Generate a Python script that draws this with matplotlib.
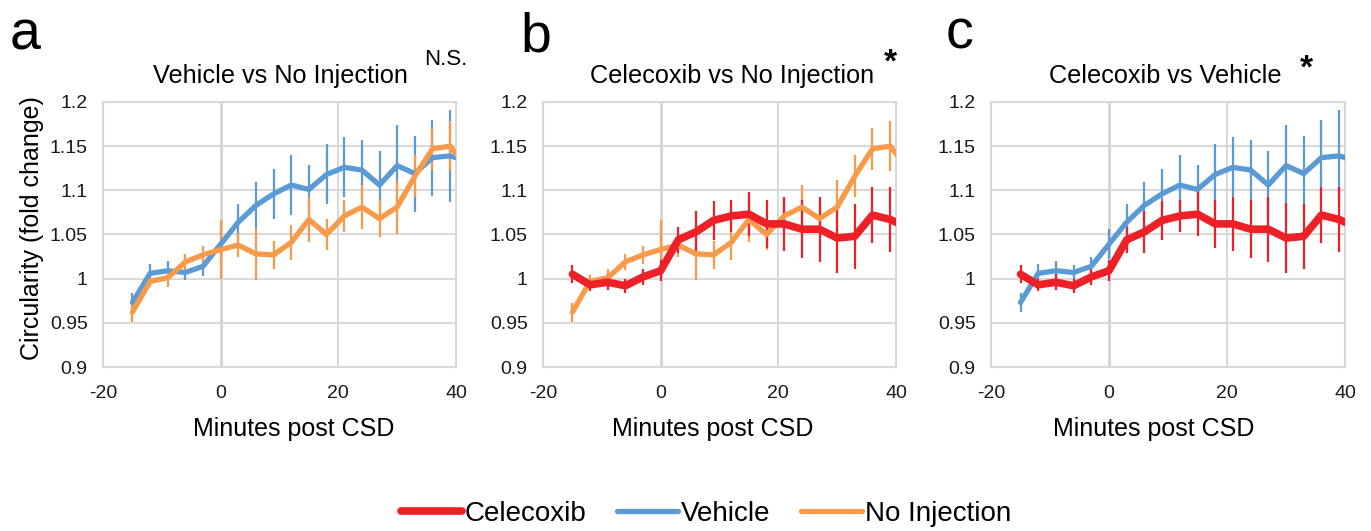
import numpy as np
import matplotlib
matplotlib.use("Agg")
import matplotlib.pyplot as plt

plt.rcParams['font.family'] = ['Liberation Sans', 'DejaVu Sans']

# data (last point at 42 min lies just past the axis edge)
minutes = [-15, -12, -9, -6, -3, 0, 3, 6, 9, 12, 15, 18, 21, 24, 27, 30, 33, 36, 39, 42]

celecoxib = [1.005, 0.993, 0.996, 0.992, 1.002, 1.009, 1.044, 1.053, 1.066, 1.071,
             1.073, 1.062, 1.062, 1.056, 1.056, 1.046, 1.048, 1.072, 1.067, 1.058]
celecoxib_err = [0.010, 0.007, 0.009, 0.008, 0.009, 0.012, 0.015, 0.024, 0.022, 0.018,
                 0.025, 0.027, 0.031, 0.033, 0.037, 0.040, 0.037, 0.032, 0.037, 0.035]

vehicle = [0.973, 1.006, 1.009, 1.007, 1.014, 1.039, 1.064, 1.083, 1.096, 1.106,
           1.101, 1.118, 1.126, 1.123, 1.106, 1.128, 1.119, 1.137, 1.139, 1.133]
vehicle_err = [0.011, 0.011, 0.011, 0.008, 0.011, 0.017, 0.021, 0.026, 0.028, 0.034,
               0.028, 0.034, 0.034, 0.034, 0.039, 0.046, 0.043, 0.043, 0.052, 0.050]

no_injection = [0.962, 0.997, 1.001, 1.019, 1.027, 1.033, 1.038, 1.028, 1.027, 1.041,
                1.067, 1.050, 1.071, 1.081, 1.068, 1.081, 1.116, 1.147, 1.150, 1.125]
no_injection_err = [0.011, 0.007, 0.010, 0.009, 0.010, 0.033, 0.014, 0.029, 0.016, 0.020,
                    0.025, 0.018, 0.018, 0.025, 0.021, 0.031, 0.024, 0.024, 0.028, 0.028]

x_ticks = [-20, 0, 20, 40]
y_ticks = [0.9, 0.95, 1.0, 1.05, 1.1, 1.15, 1.2]
y_ticklabels = ['0.9', '0.95', '1', '1.05', '1.1', '1.15', '1.2']

titles = ['Vehicle vs No Injection', 'Celecoxib vs No Injection', 'Celecoxib vs Vehicle']
letters = ['a', 'b', 'c']
marks = ['N.S.', '*', '*']

RED = '#EE2027'
BLUE = '#5B9BD5'
ORANGE = '#F79A4A'

series = {
    'Celecoxib': (celecoxib, celecoxib_err, RED, 5.5),
    'Vehicle': (vehicle, vehicle_err, BLUE, 3.8),
    'No Injection': (no_injection, no_injection_err, ORANGE, 3.8),
}
# which series go in each panel, drawn in this order
panels = [['Vehicle', 'No Injection'],
          ['No Injection', 'Celecoxib'],
          ['Vehicle', 'Celecoxib']]

W, H = 1371, 531
fig = plt.figure(figsize=(W / 100, H / 100), dpi=100)

# axes boxes in pixels (left, right), common top/bottom
boxes = [(103, 456), (543, 896), (991, 1345)]
top, bottom = 102, 367
title_x = [280, 732, 1165]
xlabel_x = [294, 713, 1154]
letter_pos = [(10, 50), (520, 52), (946, 48)]
mark_pos = [(424, 65), (884, 72), (1300, 78)]

handles = {}
for i, (l, r) in enumerate(boxes):
    ax = fig.add_axes([l / W, 1 - bottom / H, (r - l) / W, (bottom - top) / H])
    ax.set_xlim(-20, 40)
    ax.set_ylim(0.9, 1.2)
    ax.set_xticks(x_ticks)
    ax.set_xticklabels([str(t) for t in x_ticks])
    ax.set_yticks(y_ticks)
    ax.set_yticklabels(y_ticklabels)
    ax.tick_params(length=0, labelsize=14, labelcolor='#1a1a1a')
    ax.tick_params(axis='y', pad=11)
    ax.tick_params(axis='x', pad=13)
    ax.grid(True, color='#D9D9D9', lw=1.5, zorder=0)
    ax.axvline(0, color='#BFBFBF', lw=1.8, zorder=1)
    for s in ax.spines.values():
        s.set_color('#D9D9D9')
        s.set_linewidth(1.5)

    for name in panels[i]:
        vals, err, col, lw = series[name]
        ax.errorbar(minutes, vals, yerr=err, fmt='none', ecolor=col, elinewidth=1.6,
                    capsize=0, zorder=2)
        ln, = ax.plot(minutes, vals, color=col, lw=lw, solid_joinstyle='round',
                      solid_capstyle='round', zorder=3, label=name)
        handles[name] = ln

    fig.text(title_x[i] / W, 1 - 83 / H, titles[i], ha='center', va='baseline', fontsize=18.2)
    fig.text(xlabel_x[i] / W, 1 - 436 / H, 'Minutes post CSD', ha='center', va='baseline',
             fontsize=18)
    fig.text(letter_pos[i][0] / W, 1 - letter_pos[i][1] / H, letters[i], ha='left',
             va='baseline', fontsize=40)
    if marks[i] == '*':
        fig.text(mark_pos[i][0] / W, 1 - mark_pos[i][1] / H, '*', ha='left', va='baseline',
                 fontsize=24, fontweight='bold')
    else:
        fig.text(mark_pos[i][0] / W, 1 - mark_pos[i][1] / H, marks[i], ha='left',
                 va='baseline', fontsize=16)

fig.text(32 / W, 1 - 228 / H, 'Circularity (fold change)', rotation=90, ha='center',
         va='center', fontsize=18)

order = ['Celecoxib', 'Vehicle', 'No Injection']
fig.legend([handles[n] for n in order], order, loc='center', bbox_to_anchor=(706 / W, 1 - 514 / H),
           ncol=3, frameon=False, fontsize=20, handlelength=2.2, handletextpad=0.1,
           columnspacing=1.1, borderpad=0)

fig.savefig('out.png', dpi=100)
